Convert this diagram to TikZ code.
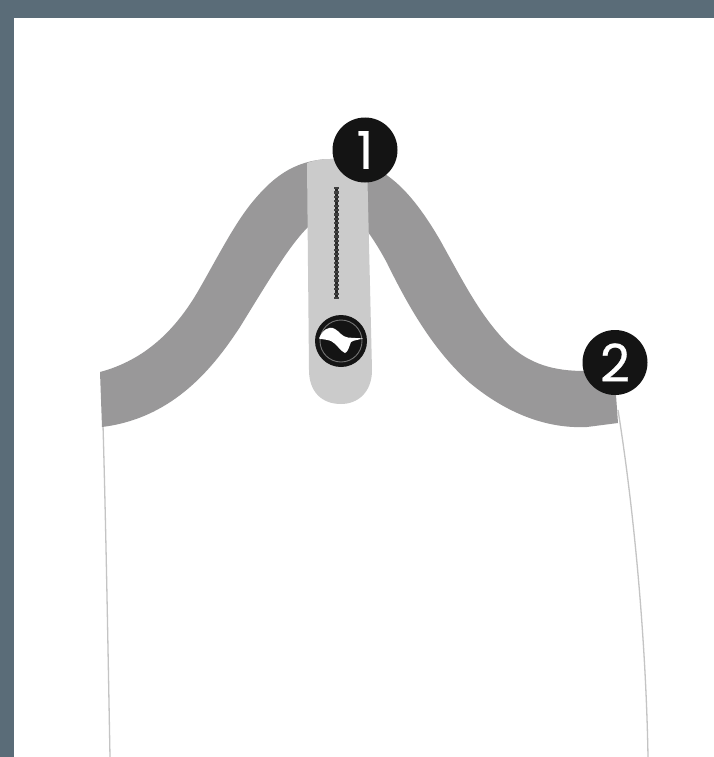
\documentclass[tikz,border=0pt]{standalone}
\usepackage{fontspec}
\setmainfont[FakeBold=0.5]{Poppins}
\definecolor{frameC}{HTML}{5A6C78}
\definecolor{bandC}{HTML}{999899}
\definecolor{stripC}{HTML}{CBCBCB}
\definecolor{legC}{HTML}{C4C4C4}
\definecolor{badgeC}{HTML}{141414}
\tikzset{
  badge/.style={circle,fill=badgeC,draw=none,minimum size=65pt,inner sep=0pt,text=white,font=\fontsize{52}{52}\selectfont},
  legline/.style={draw=legC,line width=1.3pt},
}
\begin{document}
\begin{tikzpicture}[x=1pt,y=-1pt]
\useasboundingbox (0,0) rectangle (714,757);
\fill[frameC] (0,0) rectangle (714,757);
\fill[white] (14,18) rectangle (714,757);
% side lines
\draw[legline] (103,425) .. controls (106,530) and (108,650) .. (110,757);
\draw[legline] (618,410) .. controls (634,510) and (646,640) .. (648,757);
% yoke band
\fill[bandC] (100,372)
  .. controls (145,360) and (175,330) .. (197,293)
  .. controls (215,262) and (232,228) .. (250,205)
  .. controls (270,180) and (292,160) .. (330,159)
  .. controls (375,158) and (405,180) .. (440,240)
  .. controls (465,285) and (480,315) .. (507,343)
  .. controls (530,365) and (555,371) .. (585,371)
  -- (616,395) -- (618,423) -- (587,427)
  .. controls (545,429) and (505,412) .. (470,383)
  .. controls (435,352) and (410,310) .. (387,263)
  .. controls (380,250) and (375,242) .. (368,232)
  -- (340,215) -- (308,227)
  .. controls (290,245) and (272,275) .. (240,327)
  .. controls (215,365) and (175,418) .. (102,427)
  -- cycle;
% centre strip
\fill[stripC] (307,163) .. controls (315,160) and (322,159) .. (330,159) -- (367,160)
  -- (372,370) .. controls (372,392) and (358,404) .. (341,404)
  .. controls (322,404) and (309,392) .. (309,370) -- cycle;
% stitching
\draw[line width=3.4pt,black!85] (336.5,187) -- (336.5,299);
\draw[line width=5.5pt,black!75,dash pattern=on 2.2pt off 2.2pt] (336.5,187) -- (336.5,299);
% logo
\fill[badgeC] (341,341) circle (26);
\draw[black!55,line width=.9pt] (341,341) circle (21);
\fill[white] (319,338.5) .. controls (322,331) and (328,325) .. (335,329)
  .. controls (339,331) and (342,337) .. (348,337.5)
  .. controls (353,338) and (358,338) .. (363,338.5)
  .. controls (358,340) and (354,340) .. (351,342)
  .. controls (349,347) and (348,352) .. (345,353)
  .. controls (340,351) and (337,344) .. (331,341)
  .. controls (327,339.5) and (323,339.5) .. (319,338.5) -- cycle;
% badges
\node[badge] (one) at (365,150) {1};
\node[badge] (two) at (615,362.5) {2};
\end{tikzpicture}
\end{document}
